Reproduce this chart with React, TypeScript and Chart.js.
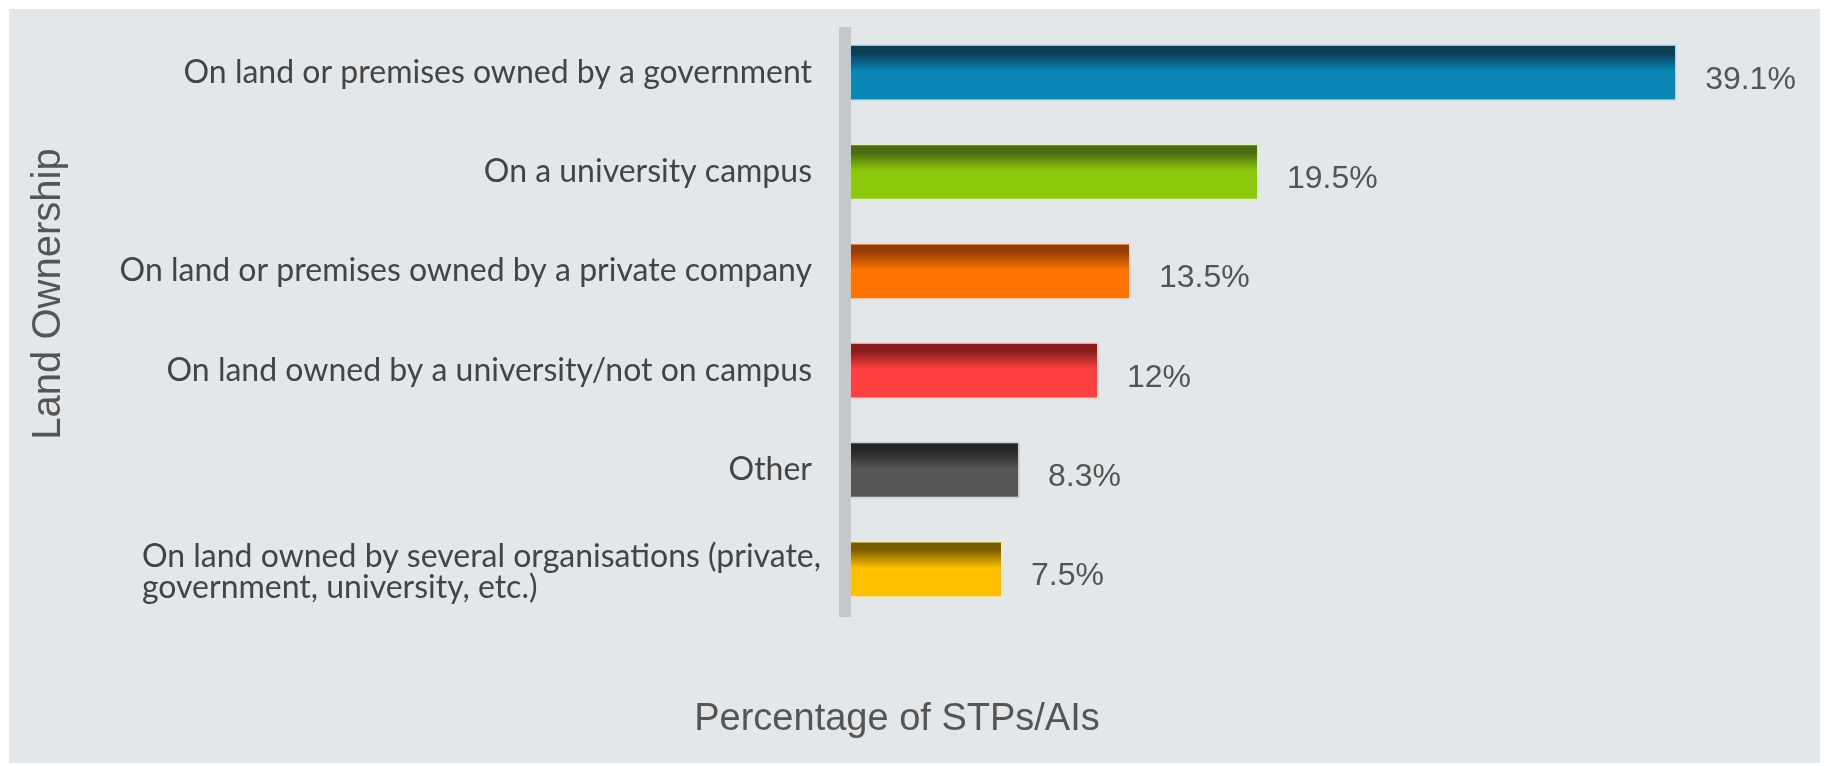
import React, { useEffect, useRef } from "react";
import { Chart, registerables } from "chart.js";

Chart.register(...registerables);

const categories: (string | string[])[] = [
  "On land or premises owned by a government",
  "On a university campus",
  "On land or premises owned by a private company",
  "On land owned by a university/not on campus",
  "Other",
  ["On land owned by several organisations (private,", "government, university, etc.)"],
];
const values: number[] = [39.1, 19.5, 13.5, 12, 8.3, 7.5];
const mainColors: string[] = ["#0a87b7", "#8cc90a", "#ff7300", "#ff4040", "#565656", "#ffc000"];
const darkColors: string[] = ["#0c3f56", "#4c6a12", "#963d06", "#8a1d1d", "#262626", "#7a5d00"];
const rimColors: string[] = ["#c9e4f1", "#dcefbd", "#ffd8bd", "#ffcfcf", "#d3d3d3", "#fbeaae"];
const xAxisTitle = "Percentage of STPs/AIs";
const yAxisTitle = "Land Ownership";

const BAR_PCT = 0.58;
const W = 1811;
const H = 754;

const labelsPlugin = {
  id: "customLabels",
  afterDatasetsDraw(chart: any) {
    const { ctx, chartArea: area, scales } = chart;
    const xs = scales.x;
    const ys = scales.y;
    ctx.save();
    // axis line
    ctx.fillStyle = "#c5c8cb";
    ctx.fillRect(area.left - 4, area.top + 4, 12, area.bottom - area.top - 6);

    // category labels
    ctx.font = "32px Lato";
    ctx.fillStyle = "#444444";
    ctx.textBaseline = "alphabetic";
    const rightEdge = area.left - 31;
    const lineH = 31;
    chart.data.labels.forEach((lab: string | string[], i: number) => {
      const c = ys.getPixelForValue(i);
      const lines = Array.isArray(lab) ? lab : [lab];
      if (lines.length === 1) {
        ctx.textAlign = "right";
        ctx.fillText(lines[0], rightEdge, c + 10);
      } else {
        const maxW = Math.max(...lines.map((l) => ctx.measureText(l).width));
        ctx.textAlign = "left";
        const startY = c + 10 - ((lines.length - 1) * lineH) / 2 + 3;
        lines.forEach((l, k) => ctx.fillText(l, rightEdge + 9 - maxW, startY + k * lineH));
      }
    });

    // value labels
    ctx.font = "32px 'Liberation Sans', Arial, sans-serif";
    ctx.fillStyle = "#545454";
    ctx.textAlign = "left";
    chart.data.datasets[0].data.forEach((v: number, i: number) => {
      const c = ys.getPixelForValue(i);
      ctx.fillText(`${v}%`, xs.getPixelForValue(v) + 28, c + 16);
    });

    // axis titles
    ctx.font = "38px 'Liberation Sans', Arial, sans-serif";
    ctx.fillStyle = "#555555";
    ctx.textAlign = "center";
    ctx.fillText(xAxisTitle, 888, 721);

    ctx.save();
    ctx.translate(51, 285);
    ctx.rotate(-Math.PI / 2);
    ctx.font = "40px 'Liberation Sans', Arial, sans-serif";
    ctx.fillText(yAxisTitle, 0, 0);
    ctx.restore();

    ctx.restore();
  },
};

export default function App() {
  const ref = useRef<HTMLCanvasElement | null>(null);
  useEffect(() => {
    if (!ref.current) return;
    const chart = new Chart(ref.current, {
      type: "bar",
      data: {
        labels: categories as any,
        datasets: [
          {
            data: values,
            backgroundColor: (ctx: any) => {
              const i = ctx.dataIndex ?? 0;
              const chart = ctx.chart;
              const area = chart.chartArea;
              const ys = chart.scales?.y;
              if (!area || !ys) return mainColors[i];
              const c = ys.getPixelForValue(i);
              const half = ((area.bottom - area.top) / categories.length) * BAR_PCT / 2;
              const g = chart.ctx.createLinearGradient(0, c - half, 0, c + half);
              g.addColorStop(0, darkColors[i]);
              g.addColorStop(0.16, darkColors[i]);
              g.addColorStop(0.48, mainColors[i]);
              g.addColorStop(1, mainColors[i]);
              return g;
            },
            borderColor: rimColors,
            borderWidth: 2,
            barPercentage: BAR_PCT,
            categoryPercentage: 1,
          },
        ],
      },
      options: {
        indexAxis: "y",
        responsive: false,
        animation: false,
        layout: { padding: { left: 834, right: 17, top: 14, bottom: 144 } },
        plugins: { legend: { display: false }, tooltip: { enabled: false } },
        scales: {
          x: { display: false, min: 0, max: 45 },
          y: { display: false },
        },
      },
      plugins: [labelsPlugin],
    });
    return () => chart.destroy();
  }, []);
  return (
    <div
      style={{
        position: "absolute",
        left: 9,
        top: 9,
        width: W,
        height: H,
        background: "#e3e7ea",
      }}
    >
      <canvas ref={ref} width={W} height={H} />
    </div>
  );
}
